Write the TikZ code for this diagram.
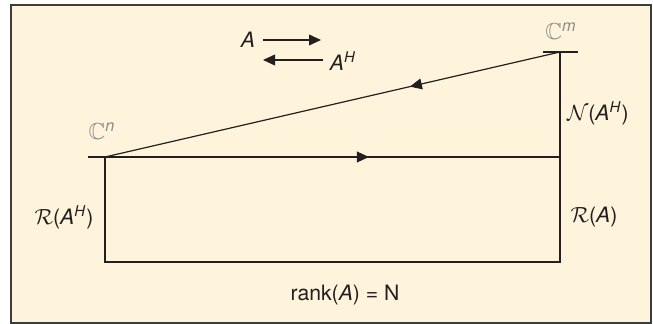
\documentclass[tikz,border=0pt]{standalone}
\usepackage{amsmath,amssymb}
\usepackage{fontspec}
\setmainfont{TeX Gyre Heros}
\usepackage{xcolor}
\usepackage{tikz}
\usetikzlibrary{positioning,arrows.meta,decorations.markings}

\definecolor{paper}{HTML}{FEF4DB}
\definecolor{ink}{HTML}{231F20}
\definecolor{frameink}{HTML}{3C3C3C}
\definecolor{spacegray}{HTML}{8C8C8C}

\begin{document}
\begin{tikzpicture}[
  x=0.5pt, y=-0.5pt,
  every node/.style={font=\fontsize{10.6}{12}\selectfont, text=ink, inner sep=1pt},
  ln/.style={draw=ink, line width=0.6pt},
  arr/.style={ln, -{Triangle[length=6pt,width=5.4pt]}},
  midarrow/.style={postaction=decorate,
    decoration={markings,
      mark=at position #1 with {\arrow{Triangle[length=6pt,width=5.4pt]}}}},
  space/.style={text=spacegray, font=\fontsize{11.6}{13}\selectfont}
]

\useasboundingbox (0,0) rectangle (653,324);

%% --- Frame ----------------------------------------------------
\draw[fill=paper, draw=frameink, line width=0.9pt] (11,5) rectangle (651,323);

%% --- Corner points --------------------------------------------
\coordinate (cn)  at (105,157);
\coordinate (cm)  at (560,52);
\coordinate (mid) at (560,157);
\coordinate (ra)  at (560,262);
\coordinate (rah) at (105,262);
\coordinate (cntick) at (88,157);
\coordinate (cmtickl) at (543,52);
\coordinate (cmtickr) at (578,52);

%% --- Subspace lines -------------------------------------------
\draw[ln] (cntick) -- (cn);
\draw[ln] (cmtickl) -- (cmtickr);
\draw[ln, midarrow=0.58] (cn) -- (mid);
\draw[ln, midarrow=0.33] (cm) -- (cn);
\draw[ln] (cm) -- (mid) -- (ra) -- (rah) -- (cn);

%% --- Space labels ---------------------------------------------
\node[space] (lcn) at (102,131) {$\mathbb{C}$\textsuperscript{\textit{n}}};
\node[space] (lcm) at (561,31)  {$\mathbb{C}$\textsuperscript{\textit{m}}};
\node (nah) at (598,113) {$\mathcal{N}$(\textit{A}\textsuperscript{\textit{H}})};
\node (rahl) at (64,217) {$\mathcal{R}$(\textit{A}\textsuperscript{\textit{H}})};
\node (ral) at (594,217) {$\mathcal{R}$(\textit{A})};
\node (rank) at (345,295) {rank(\textit{A}) = N};

%% --- Legend ---------------------------------------------------
\node (la)  at (248,40) {\textit{A}};
\node (lah) at (343,61) {\textit{A}\textsuperscript{\textit{H}}};
\coordinate (fwdend) at (321,40);
\coordinate (bwdend) at (263,60);
\draw[arr] ([xshift=3pt]la.east) -- (fwdend);
\draw[arr] ([xshift=-2pt]lah.west |- bwdend) -- (bwdend);

\end{tikzpicture}
\end{document}
